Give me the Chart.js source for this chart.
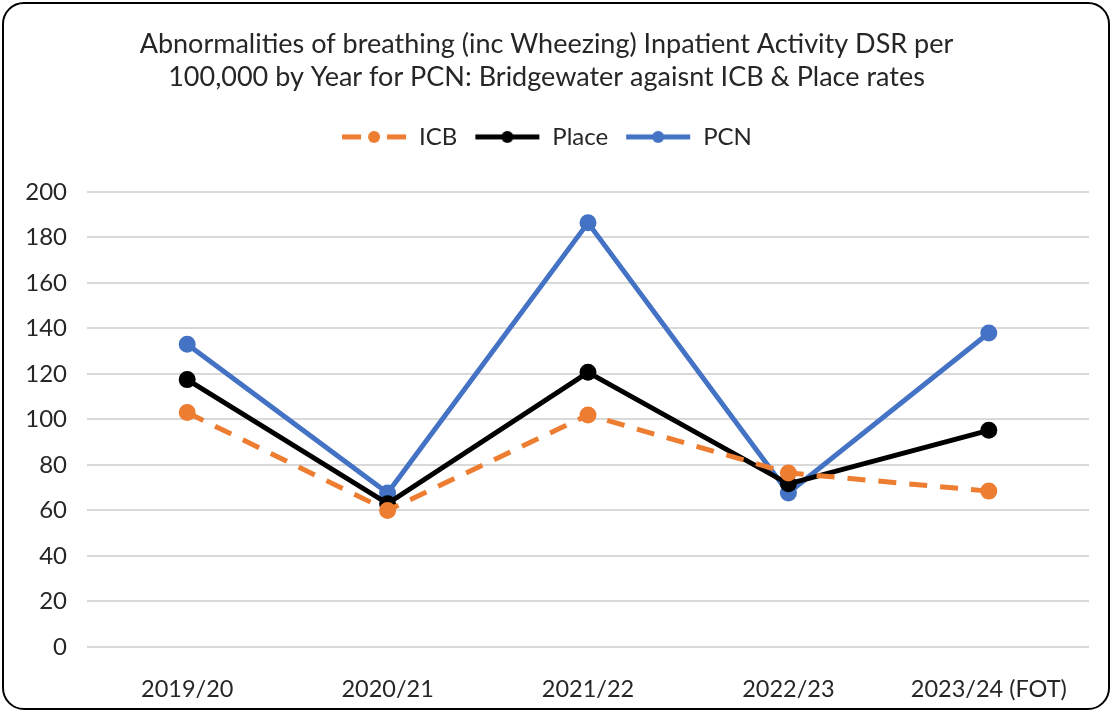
<!DOCTYPE html>
<html>
<head>
<meta charset="utf-8">
<script src="https://cdn.jsdelivr.net/npm/chart.js@4.4.1/dist/chart.umd.min.js"></script>
<style>
    body{margin:0;background:#fff;}
    #box{position:absolute;left:2px;top:2px;width:1104px;height:704px;border:2px solid #000;border-radius:22px;background:#fff;}
    #cv{position:absolute;left:0;top:0;}
</style>
</head>
<body>
<div id="box"><canvas id="cv" width="1104" height="704"></canvas></div>
<script>
const years=['2019/20','2020/21','2021/22','2022/23','2023/24 (FOT)'];
const icb=[103,60,102,76.5,68.5];
const place=[117.5,63,120.7,71.7,95.2];
const pcn=[133,67.7,186.4,67.7,138];
const titleLines=['Abnormalities of breathing (inc Wheezing) Inpatient Activity DSR per','100,000 by Year for PCN: Bridgewater agaisnt ICB & Place rates'];

//icona legenda: linea con pallino
function legendIcon(color,dash){
    let c=document.createElement('canvas');
    c.width=66;c.height=16;
    let g=c.getContext('2d');
    g.strokeStyle=color;g.fillStyle=color;g.lineWidth=5;
    if(dash){
        g.beginPath();g.moveTo(1,8);g.lineTo(20,8);g.stroke();
        g.beginPath();g.moveTo(46,8);g.lineTo(65,8);g.stroke();
    }else{
        g.beginPath();g.moveTo(1,8);g.lineTo(65,8);g.stroke();
    }
    g.beginPath();g.arc(33,8,6,0,Math.PI*2);g.fill();
    return c;
}

//spazio extra sotto la legenda
const legendGap={
    id:'legendGap',
    beforeInit(chart){
        const fit=chart.legend.fit;
        chart.legend.fit=function(){
            fit.bind(chart.legend)();
            this.height+=33;
        }
    }
}

const txt='#262626';
const ctx=document.getElementById('cv').getContext('2d');
const myChart=new Chart(ctx,{
    type:'line',
    plugins:[legendGap],
    data:{
        labels:years,
        datasets:[
            {label:'ICB',data:icb,borderColor:'#ED7D31',backgroundColor:'#ED7D31',borderWidth:5,borderDash:[18,13],pointRadius:6,icon:legendIcon('#ED7D31',true)},
            {label:'Place',data:place,borderColor:'#000000',backgroundColor:'#000000',borderWidth:5,pointRadius:6,icon:legendIcon('#000000',false)},
            {label:'PCN',data:pcn,borderColor:'#4472C4',backgroundColor:'#4472C4',borderWidth:5,pointRadius:6,icon:legendIcon('#4472C4',false)}
        ]
    },
    options:{
        responsive:false,
        animation:false,
        elements:{point:{pointStyle:'circle',borderWidth:0},line:{tension:0}},
        layout:{padding:{left:0,right:19,top:0,bottom:0}},
        plugins:{
            title:{
                display:true,text:titleLines,color:txt,
                font:{family:'Lato',size:27,weight:'normal',lineHeight:1.22},
                padding:{top:24,bottom:14}
            },
            legend:{
                labels:{
                    usePointStyle:true,pointStyleWidth:66,color:txt,
                    font:{family:'Lato',size:24},
                    boxHeight:16,padding:17,
                    generateLabels:(chart)=>chart.data.datasets.map((d,i)=>({
                        text:d.label,fillStyle:d.borderColor,strokeStyle:d.borderColor,
                        pointStyle:d.icon,datasetIndex:i,lineWidth:0,fontColor:txt
                    }))
                }
            },
            tooltip:{enabled:false}
        },
        scales:{
            x:{
                offset:true,
                grid:{display:false},
                border:{display:false},
                ticks:{color:txt,font:{family:'Lato',size:23.5},padding:20,maxRotation:0},
                afterFit:(a)=>{a.height=61;}
            },
            y:{
                min:0,max:200,
                grid:{color:'#d9d9d9',lineWidth:2,drawTicks:false},
                border:{display:false},
                ticks:{stepSize:20,color:txt,font:{family:'Lato',size:24},padding:20},
                afterFit:(a)=>{a.width=83;}
            }
        }
    }
});
</script>
</body>
</html>
